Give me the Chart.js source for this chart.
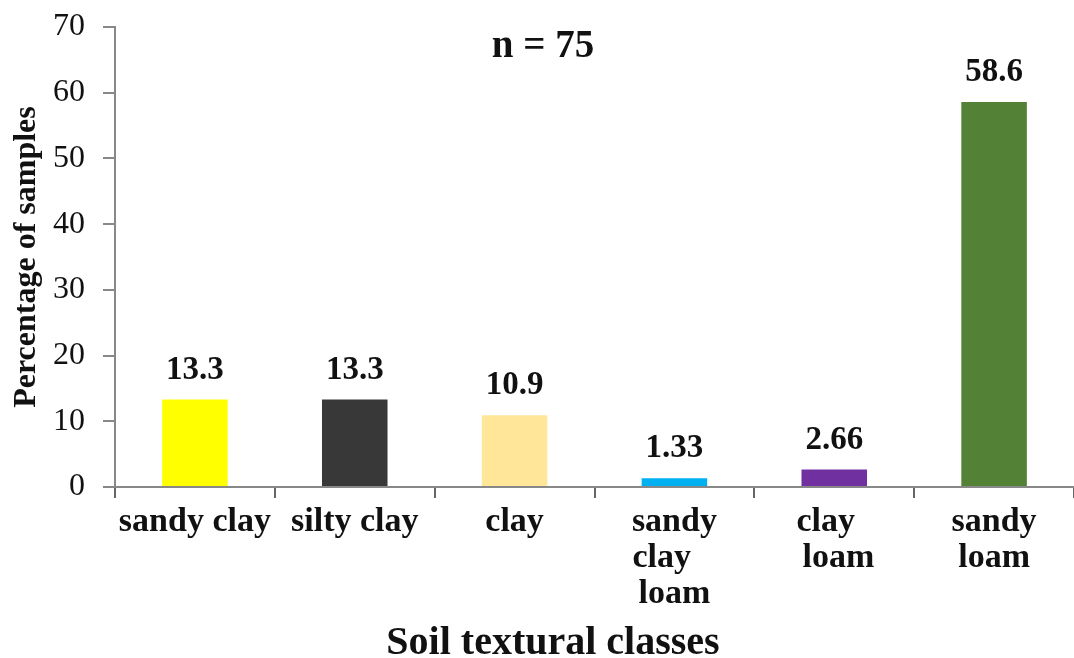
<!DOCTYPE html>
<html>
<head>
<meta charset="utf-8">
<script src="https://cdn.jsdelivr.net/npm/chart.js@4/dist/chart.umd.min.js"></script>
<style>
  html, body { margin: 0; padding: 0; background: #fff; }
  #wrap { width: 1074px; height: 658px; }
</style>
</head>
<body>
<div id="wrap"><canvas id="chart"></canvas></div>
<script>
const classes = ["sandy clay", "silty clay", "clay", ["sandy", "clay   ", "loam"], ["clay  ", " loam"], ["sandy", "loam"]];
const percentages = [13.3, 13.3, 10.9, 1.33, 2.66, 58.6];
const valueLabels = ["13.3", "13.3", "10.9", "1.33", "2.66", "58.6"];
const barColors = ["#ffff00", "#383838", "#ffe699", "#00b0f0", "#7030a0", "#538135"];
const yTicks = [0, 10, 20, 30, 40, 50, 60, 70];
const xTitle = "Soil textural classes";

const serif = "'Liberation Serif', 'Times New Roman', serif";

// valeurs au-dessus des barres, "n = 75" et titre de l'axe x
const labelPlugin = {
    id: "labelPlugin",
    afterDatasetsDraw(chart) {
        const c = chart.ctx;
        const meta = chart.getDatasetMeta(0);
        c.save();
        c.fillStyle = "#111";
        c.font = "bold 33px " + serif;
        c.textAlign = "center";
        c.textBaseline = "alphabetic";
        meta.data.forEach((bar, i) => {
            c.fillText(valueLabels[i], bar.x, bar.y - 21);
        });
        c.font = "bold 39px " + serif;
        c.fillText("n = 75", 543, 57);
        c.font = "bold 40px " + serif;
        c.fillText(xTitle, 553, 654);
        c.restore();
    }
};

new Chart(document.getElementById("chart").getContext("2d"), {
    type: "bar",
    data: {
        labels: classes,
        datasets: [{
            data: percentages,
            backgroundColor: barColors,
            borderWidth: 0,
            barPercentage: 0.41,
            categoryPercentage: 1.0
        }]
    },
    options: {
        responsive: true,
        maintainAspectRatio: false,
        animation: false,
        layout: { padding: { left: 5, top: 27, right: 0, bottom: 0 } },
        plugins: {
            legend: { display: false },
            tooltip: { enabled: false }
        },
        scales: {
            x: {
                grid: { drawOnChartArea: false, offset: true, tickLength: 11, color: "#666", lineWidth: 2 },
                border: { color: "#888", width: 2 },
                ticks: {
                    color: "#111",
                    font: { family: serif, size: 34, weight: "bold", lineHeight: 1.06 },
                    padding: 6,
                    maxRotation: 0,
                    autoSkip: false
                },
                afterFit(scale) { scale.height = 171; }
            },
            y: {
                min: 0,
                max: 70,
                afterBuildTicks(scale) { scale.ticks = yTicks.map(v => ({ value: v })); },
                grid: { drawOnChartArea: false, tickLength: 12, color: "#888", lineWidth: 2 },
                border: { color: "#888", width: 2 },
                ticks: {
                    color: "#111",
                    font: { family: serif, size: 32 },
                    padding: 18
                },
                title: {
                    display: true,
                    text: "Percentage of samples",
                    color: "#111",
                    font: { family: serif, size: 32, weight: "bold" },
                    padding: { top: 3, bottom: 0 }
                },
                afterFit(scale) {
                    scale.width = 110;
                    scale.paddingTop = 0;
                    scale.paddingBottom = 0;
                }
            }
        }
    },
    plugins: [labelPlugin]
});
</script>
</body>
</html>
